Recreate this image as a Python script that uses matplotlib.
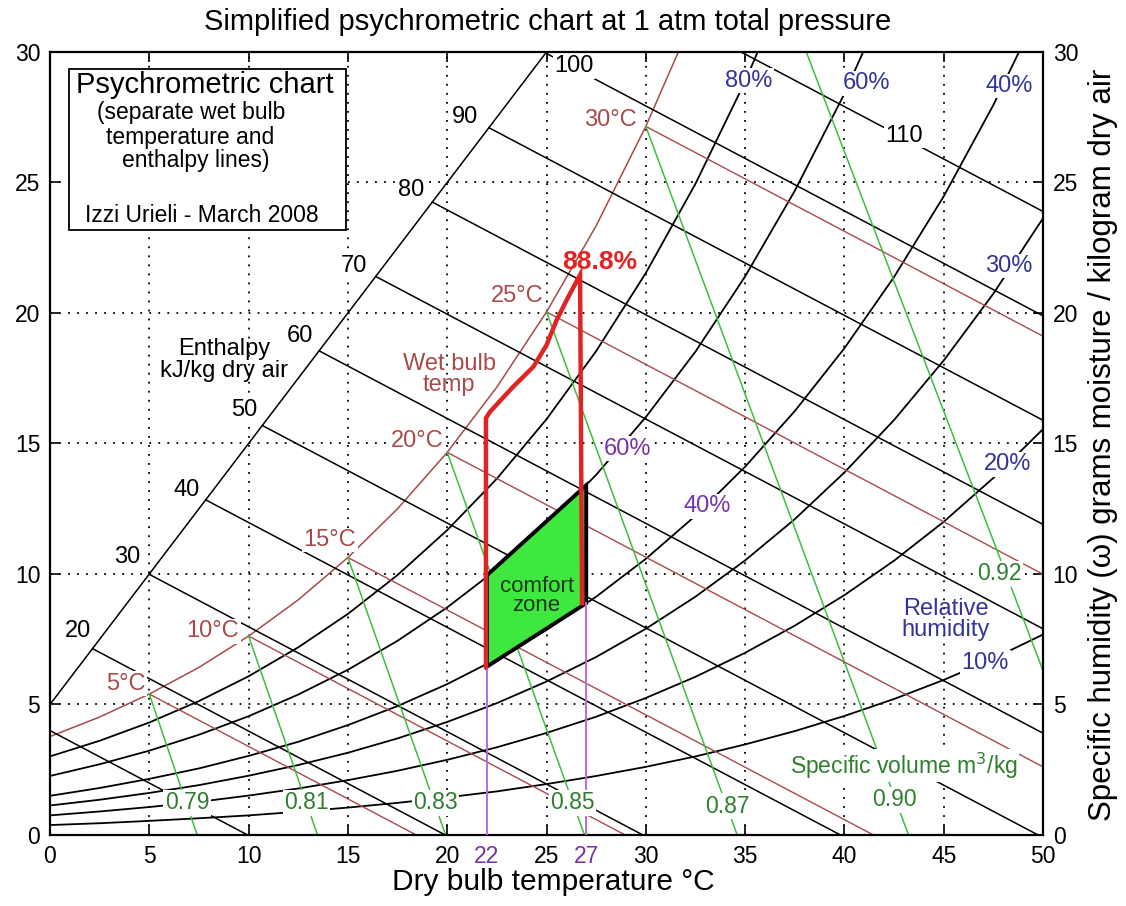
"""
Carta psicrometrica simplificada a 1 atm con zona de confort marcada.
Salida: out.png
"""
import matplotlib
matplotlib.use("Agg")
import matplotlib.pyplot as plt
from matplotlib.patches import Rectangle, Polygon

plt.rcParams["font.family"] = ["Liberation Sans", "DejaVu Sans"]

# Curvas de humedad relativa: w (g/kg) cada 2.5 C desde 0 C
t_grid = [0, 2.5, 5, 7.5, 10, 12.5, 15, 17.5, 20, 22.5, 25, 27.5, 30,
          32.5, 35, 37.5, 40, 42.5, 45, 47.5, 50]
w_sat = [3.77, 4.52, 5.40, 6.42, 7.62, 9.01, 10.63, 12.50, 14.66, 17.16,
         20.04, 23.34, 27.15, 31.50]
w_rh80 = [3.01, 3.61, 4.31, 5.13, 6.08, 7.19, 8.47, 9.96, 11.68, 13.65,
          15.93, 18.54, 21.53, 24.95, 28.87, 33.35]
w_rh60 = [2.26, 2.71, 3.23, 3.84, 4.55, 5.38, 6.33, 7.44, 8.72, 10.18,
          11.87, 13.80, 16.01, 18.52, 21.40, 24.68, 28.40, 32.64]
w_rh40 = [1.50, 1.80, 2.15, 2.55, 3.03, 3.57, 4.21, 4.94, 5.78, 6.75,
          7.86, 9.13, 10.58, 12.23, 14.11, 16.24, 18.65, 21.38, 24.47,
          27.97, 31.91]
w_rh30 = [1.13, 1.35, 1.61, 1.91, 2.27, 2.68, 3.15, 3.70, 4.33, 5.05,
          5.88, 6.82, 7.90, 9.13, 10.52, 12.10, 13.89, 15.90, 18.18,
          20.74, 23.63]
w_rh20 = [0.75, 0.90, 1.07, 1.27, 1.51, 1.78, 2.10, 2.46, 2.88, 3.36,
          3.91, 4.53, 5.25, 6.06, 6.98, 8.02, 9.19, 10.51, 12.00, 13.68,
          15.55]
w_rh10 = [0.38, 0.45, 0.54, 0.64, 0.75, 0.89, 1.05, 1.23, 1.44, 1.67,
          1.95, 2.26, 2.61, 3.01, 3.47, 3.98, 4.56, 5.21, 5.94, 6.76, 7.68]

# Lineas de entalpia (kJ/kg): extremo inicial y final
enth_labels = ["20", "30", "40", "50", "60", "70", "80", "90", "100", "110"]
enth_t0 = [0, 2.14, 4.99, 7.84, 10.69, 13.55, 16.40, 19.25, 22.10, 24.96, 34.80]
enth_w0 = [4.00, 7.14, 9.99, 12.84, 15.69, 18.55, 21.40, 24.25, 27.10, 29.96, 30.0]
enth_t1 = [9.95, 19.90, 29.85, 39.80, 49.75, 50, 50, 50, 50, 50, 50]
enth_w1 = [0, 0, 0, 0, 0, 3.90, 7.90, 11.90, 15.89, 19.89, 23.89]
enth_scale_t = [0, 25]
enth_scale_w = [5, 30]
enth_lab_t = [1.4, 3.9, 6.9, 9.8, 12.6, 15.3, 18.2, 20.9, 26.4, 43.0]
enth_lab_w = [7.8, 10.65, 13.2, 16.3, 19.1, 21.8, 24.7, 27.5, 29.45, 26.8]

# Lineas de bulbo humedo (C)
wb_labels = ["5°C", "10°C", "15°C", "20°C", "25°C", "30°C"]
wb_t0 = [5, 10, 15, 20, 25, 30]
wb_w0 = [5.40, 7.62, 10.63, 14.66, 20.04, 27.15]
wb_t1 = [18.44, 28.96, 41.46, 50, 50, 50]
wb_w1 = [0, 0, 0, 2.61, 9.99, 19.11]
wb_lab_t = [3.8, 8.2, 14.1, 18.5, 23.5, 28.2]
wb_lab_w = [5.8, 7.8, 11.3, 15.1, 20.65, 27.4]

# Volumen especifico (m3/kg)
vol_labels = ["0.79", "0.81", "0.83", "0.85", "0.87", "0.90", "0.92"]
vol_t0 = [5, 10, 15, 20, 25, 30, 38.08]
vol_w0 = [5.40, 7.62, 10.63, 14.66, 20.04, 27.15, 30.0]
vol_t1 = [7.41, 13.47, 19.92, 26.91, 34.60, 43.23, 50]
vol_w1 = [0, 0, 0, 0, 0, 0, 6.3]
vol_lab_t = [6.9, 12.9, 19.4, 26.3, 34.1, 42.5, 47.8]
vol_lab_w = [1.23, 1.23, 1.23, 1.23, 1.1, 1.35, 10.0]

# Etiquetas de humedad relativa
rh_labels = ["80%", "60%", "40%", "30%", "20%", "10%"]
rh_lab_t = [35.2, 41.1, 48.3, 48.3, 48.2, 47.1]
rh_lab_w = [28.9, 28.8, 28.7, 21.8, 14.2, 6.6]

# Zona de confort y envolvente roja
comfort_t = [22, 22, 27, 27]
comfort_w = [6.45, 9.95, 13.4, 8.88]
env_t = [21.95, 21.95, 22.16, 23.33, 24.34, 25.0, 25.51, 26.1, 26.69, 26.79]
env_w = [6.45, 15.97, 16.22, 17.18, 17.94, 18.77, 19.73, 20.62, 21.46, 8.88]
limit_t = [22, 27]
limit_w = [6.45, 8.88]

# ── Figura ────────────────────────────────────────────────────────────────
BROWN = "#a84a4a"
GREEN = "#3cbf3c"
BLUE = "#34349a"
PURPLE = "#7a34a8"
LBOX = dict(boxstyle="square,pad=0.06", fc="white", ec="none")

fig = plt.figure(figsize=(11.26, 9.06), dpi=100)
ax = fig.add_axes([0.0444, 0.0784, 0.8819, 0.8642])
ax.set_xlim(0, 50)
ax.set_ylim(0, 30)
ax.set_xticks(range(0, 51, 5))
ax.set_yticks(range(0, 31, 5))
ax.tick_params(direction="in", length=7, width=1.2, top=True, right=True,
               labelright=True, labelsize=16.5, pad=7)
ax.grid(True, color="k", linestyle=(0, (1, 4)), linewidth=1.3)
ax.set_axisbelow(True)
for s in ax.spines.values():
    s.set_linewidth(1.6)

# humedad relativa
for w in [w_rh10, w_rh20, w_rh30, w_rh40, w_rh60, w_rh80]:
    ax.plot(t_grid[:len(w)], w, color="k", lw=1.3, zorder=2)
ax.plot(t_grid[:len(w_sat)], w_sat, color=BROWN, lw=1.1, zorder=2)

# entalpia
ax.plot(enth_scale_t, enth_scale_w, color="k", lw=1.1, zorder=2)
for i in range(len(enth_t0)):
    ax.plot([enth_t0[i], enth_t1[i]], [enth_w0[i], enth_w1[i]],
            color="k", lw=1.1, zorder=2)

# bulbo humedo
for i in range(len(wb_t0)):
    ax.plot([wb_t0[i], wb_t1[i]], [wb_w0[i], wb_w1[i]],
            color=BROWN, lw=1.0, zorder=2)

# volumen especifico
for i in range(len(vol_t0)):
    ax.plot([vol_t0[i], vol_t1[i]], [vol_w0[i], vol_w1[i]],
            color=GREEN, lw=1.1, zorder=2)

# zona de confort
ax.add_patch(Polygon(list(zip(comfort_t, comfort_w)), closed=True,
                     fc="#3ee83e", ec="k", lw=2.8, zorder=3))
for t, w in zip(limit_t, limit_w):
    ax.plot([t, t], [0, w], color="#b86ad8", lw=1.4, zorder=3)
ax.plot(env_t, env_w, color="#e02424", lw=3.2, zorder=4,
        solid_joinstyle="miter")

# etiquetas
for txt, t, w in zip(enth_labels, enth_lab_t, enth_lab_w):
    ax.text(t, w, txt, fontsize=17, ha="center", va="center", bbox=LBOX, zorder=5)
for txt, t, w in zip(wb_labels, wb_lab_t, wb_lab_w):
    ax.text(t, w, txt, fontsize=17, color=BROWN, ha="center", va="center",
            bbox=LBOX, zorder=5)
for txt, t, w in zip(vol_labels, vol_lab_t, vol_lab_w):
    ax.text(t, w, txt, fontsize=16.5, color="#2f7f2f", ha="center", va="center",
            bbox=LBOX, zorder=5)
for txt, t, w in zip(rh_labels, rh_lab_t, rh_lab_w):
    ax.text(t, w, txt, fontsize=17, color=BLUE, ha="center", va="center",
            bbox=LBOX, zorder=5)

ax.text(8.75, 18.2, "Enthalpy\nkJ/kg dry air", fontsize=17, ha="center",
        va="center", linespacing=0.95, zorder=5)
ax.text(20.1, 17.65, "Wet bulb\ntemp", fontsize=17, color=BROWN, ha="center",
        va="center", linespacing=0.95, zorder=5)
ax.text(45.1, 8.25, "Relative\nhumidity", fontsize=17, color=BLUE, ha="center",
        va="center", linespacing=0.95, zorder=5)
ax.text(43.0, 2.65, "Specific volume m$^3$/kg", fontsize=16.5, color="#2f7f2f",
        ha="center", va="center", bbox=LBOX, zorder=5)
ax.text(29.1, 14.8, "60%", fontsize=17, color=PURPLE, ha="center", va="center",
        bbox=LBOX, zorder=5)
ax.text(33.1, 12.6, "40%", fontsize=17, color=PURPLE, ha="center", va="center",
        bbox=LBOX, zorder=5)
ax.text(24.5, 9.15, "comfort\nzone", fontsize=16, color="#1f3a1f", ha="center",
        va="center", linespacing=0.9, zorder=5)
ax.text(27.7, 21.95, "88.8%", fontsize=19, color="#e02424", fontweight="bold",
        ha="center", va="center", zorder=5)
for t in limit_t:
    ax.annotate(str(t), xy=(t, 0), xycoords=("data", "axes fraction"),
                xytext=(0, -7), textcoords="offset points", ha="center",
                va="top", fontsize=16.5, color=PURPLE)

# recuadro informativo
ax.add_patch(Rectangle((0.96, 23.18), 13.94, 6.17, fc="white", ec="k",
                       lw=1.3, zorder=6))
ax.text(7.8, 28.74, "Psychrometric chart", fontsize=21, ha="center",
        va="center", zorder=7)
ax.text(7.1, 27.70, "(separate wet bulb", fontsize=16.5, ha="center",
        va="center", zorder=7)
ax.text(7.05, 26.74, "temperature and", fontsize=16.5, ha="center",
        va="center", zorder=7)
ax.text(7.35, 25.86, "enthalpy lines)", fontsize=16.5, ha="center",
        va="center", zorder=7)
ax.text(7.65, 23.75, "Izzi Urieli - March 2008", fontsize=16.5, ha="center",
        va="center", zorder=7)

fig.text(0.4867, 0.9757, "Simplified psychrometric chart at 1 atm total pressure",
         fontsize=21, ha="center", va="center")
fig.text(0.491, 0.0265, "Dry bulb temperature °C", fontsize=21.5, ha="center",
         va="center")
fig.text(0.9796, 0.5088, "Specific humidity (ω) grams moisture / kilogram dry air",
         fontsize=22.5, rotation=90, ha="center", va="center")

fig.savefig("out.png", dpi=100)
